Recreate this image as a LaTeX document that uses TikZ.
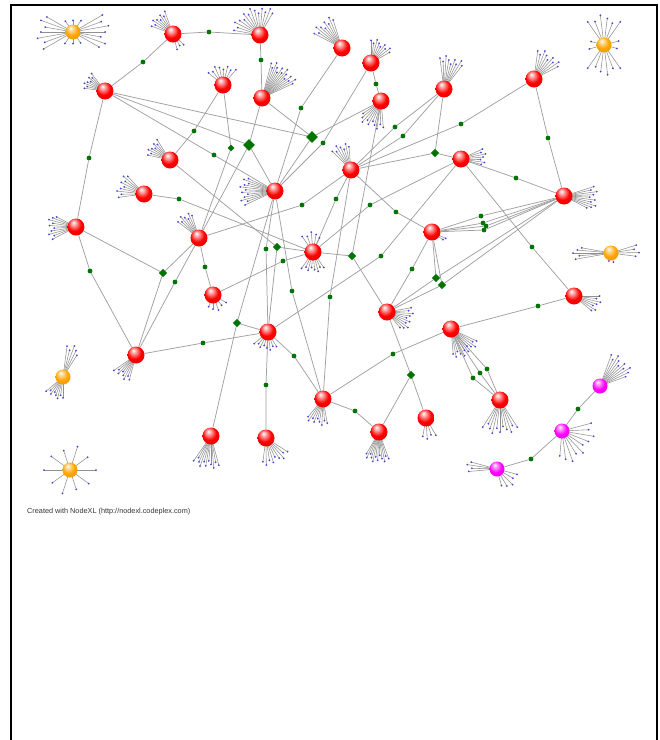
\documentclass[tikz,border=0pt]{standalone}
\usepackage{xcolor}
\usepackage{tikz}
\usetikzlibrary{shapes,positioning,calc}
\usepackage{fontspec}
\newfontfamily\creditfont{Liberation Sans}
\definecolor{nxgreen}{RGB}{0,115,0}
\definecolor{nxgray}{RGB}{160,160,160}
\definecolor{nxray}{RGB}{145,145,145}
\definecolor{nxblue}{RGB}{70,70,210}
\definecolor{nxorange}{RGB}{255,165,0}
\pgfdeclarelayer{back}
\pgfsetlayers{back,main}
\pgfdeclareradialshading{redball}{\pgfpoint{-8bp}{14bp}}{color(0bp)=(white); color(5bp)=(red!25!white); color(20bp)=(red); color(40bp)=(red!88!black); color(50bp)=(red!75!black)}
\pgfdeclareradialshading{orangeball}{\pgfpoint{-8bp}{14bp}}{color(0bp)=(white); color(5bp)=(nxorange!30!white); color(20bp)=(nxorange); color(40bp)=(nxorange!90!black); color(50bp)=(nxorange!80!black)}
\pgfdeclareradialshading{magball}{\pgfpoint{-8bp}{14bp}}{color(0bp)=(white); color(5bp)=(magenta!30!white); color(20bp)=(magenta); color(40bp)=(magenta!90!black); color(50bp)=(magenta!78!black)}

% fan of leaves: node, direction, spread, count, length
\newcommand{\fan}[5]{%
  \foreach \k in {1,...,#4}{%
    \pgfmathsetmacro{\fanang}{#2-#3/2+#3*(\k-1)/max(#4-1,1)}%
    \pgfmathsetmacro{\fanlen}{#5*(0.78+0.22*mod(\k*3,5)/4)}%
    \draw[ray] (#1.center) -- ++(\fanang:\fanlen) node[leaf] (#1-#2-\k) {};%
  }}

\begin{document}
\begin{tikzpicture}[x=1pt,y=-1pt]
\tikzstyle{rb} = [circle, shade, shading=redball, minimum size=17pt, inner sep=0pt]
\tikzstyle{ob} = [circle, shade, shading=orangeball, minimum size=15pt, inner sep=0pt]
\tikzstyle{mb} = [circle, shade, shading=magball, minimum size=15pt, inner sep=0pt]
\tikzstyle{gd} = [circle, fill=nxgreen, minimum size=4.8pt, inner sep=0pt]
\tikzstyle{gm} = [diamond, fill=nxgreen, minimum size=8.5pt, inner sep=0pt]
\tikzstyle{gb} = [diamond, fill=nxgreen, minimum size=12pt, inner sep=0pt]
\tikzstyle{lk} = [nxgray, line width=0.75pt]
\tikzstyle{ray} = [nxray, line width=0.55pt]
\tikzstyle{leaf} = [circle, fill=nxblue, minimum size=2pt, inner sep=0pt]
\useasboundingbox (0,0) rectangle (660,740);
\draw[line width=2pt] (11,740) -- (11,5);
\draw[line width=2pt] (657,740) -- (657,5);
\draw[line width=1.3pt] (10,5) -- (658,5);

% isolates
\node [ob] (O1) at (73,32) {};
\node [ob] (O2) at (604,45) {};
\node [ob] (O3) at (611,253) {};
\node [ob] (O4) at (63,377) {};
\node [ob] (O5) at (70,470) {};
\node [mb] (M1) at (600,386) {};
\node [mb] (M2) at (562,431) {};
\node [mb] (M3) at (497,469) {};
% accounts
\node [rb] (R1) at (173,34) {};
\node [rb] (R2) at (260,35) {};
\node [rb] (R3) at (342,48) {};
\node [rb] (R4) at (371,63) {};
\node [rb] (R5) at (105,91) {};
\node [rb] (R6) at (223,85) {};
\node [rb] (R7) at (262,98) {};
\node [rb] (R8) at (381,101) {};
\node [rb] (R9) at (444,89) {};
\node [rb] (R10) at (534,79) {};
\node [rb] (R11) at (170,160) {};
\node [rb] (R12) at (144,194) {};
\node [rb] (R13) at (275,191) {};
\node [rb] (R14) at (351,170) {};
\node [rb] (R15) at (461,159) {};
\node [rb] (R16) at (564,196) {};
\node [rb] (R17) at (76,227) {};
\node [rb] (R18) at (199,238) {};
\node [rb] (R19) at (313,252) {};
\node [rb] (R20) at (432,232) {};
\node [rb] (R21) at (213,295) {};
\node [rb] (R22) at (574,296) {};
\node [rb] (R23) at (387,312) {};
\node [rb] (R24) at (268,332) {};
\node [rb] (R25) at (451,329) {};
\node [rb] (R26) at (136,355) {};
\node [rb] (R27) at (323,399) {};
\node [rb] (R28) at (500,400) {};
\node [rb] (R29) at (426,418) {};
\node [rb] (R30) at (379,432) {};
\node [rb] (R31) at (211,436) {};
\node [rb] (R32) at (266,438) {};
% shared items
\node [gd] (g1) at (209,32) {};
\node [gd] (g2) at (143,62) {};
\node [gd] (g3) at (261,60) {};
\node [gd] (g4) at (301,108) {};
\node [gd] (g5) at (323,143) {};
\node [gm, minimum size=7pt] (g6) at (231,148) {};
\node [gd] (g7) at (214,155) {};
\node [gd] (g8) at (194,131) {};
\node [gd] (g9) at (89,158) {};
\node [gd] (g10) at (179,199) {};
\node [gd] (g11) at (302,205) {};
\node [gd] (g12) at (376,84) {};
\node [gd] (g13) at (395,127) {};
\node [gd] (g14) at (403,136) {};
\node [gd] (g15) at (461,124) {};
\node [gd] (g16) at (548,138) {};
\node [gd] (g17) at (516,178) {};
\node [gd] (g18) at (370,205) {};
\node [gd] (g19) at (396,212) {};
\node [gd] (g20) at (336,199) {};
\node [gd] (g21) at (481,216) {};
\node [gd] (g22) at (483,223) {};
\node [gd] (g23) at (486,226) {};
\node [gd] (g24) at (484,230) {};
\node [gd] (g25) at (532,247) {};
\node [gd] (g26) at (412,269) {};
\node [gd] (g27) at (381,256) {};
\node [gd] (g28) at (538,306) {};
\node [gd] (g29) at (205,267) {};
\node [gd] (g30) at (175,282) {};
\node [gd] (g31) at (266,249) {};
\node [gd] (g32) at (283,261) {};
\node [gd] (g33) at (292,291) {};
\node [gd] (g34) at (330,297) {};
\node [gd] (g35) at (203,343) {};
\node [gd] (g36) at (294,356) {};
\node [gd] (g37) at (266,385) {};
\node [gd] (g38) at (355,411) {};
\node [gd] (g39) at (393,354) {};
\node [gd] (g40) at (473,378) {};
\node [gd] (g41) at (480,373) {};
\node [gd] (g42) at (487,369) {};
\node [gd] (g43) at (578,409) {};
\node [gd] (g44) at (531,459) {};
\node [gd] (g45) at (90,271) {};
\node [gb] (d1) at (312,137) {};
\node [gb] (d2) at (249,145) {};
\node [gm] (d3) at (237,323) {};
\node [gm] (d4) at (435,153) {};
\node [gm] (d5) at (436,278) {};
\node [gm] (d6) at (442,285) {};
\node [gm] (d7) at (163,273) {};
\node [gm] (d8) at (277,247) {};
\node [gm] (d9) at (352,256) {};
\node [gm] (d10) at (411,375) {};

\node [anchor=west, inner sep=0pt, text=black!80, font=\creditfont\fontsize{7.3}{9}\selectfont] (credit) at (27,512) {Created with NodeXL (http://nodexl.codeplex.com)};

\begin{pgfonlayer}{back}
\draw [lk] (R1) -- (g1) -- (R2);
\draw [lk] (R1) -- (g2) -- (R5);
\draw [lk] (R2) -- (g3) -- (R7);
\draw [lk] (R3) -- (g4) -- (R13);
\draw [lk] (R4) -- (g5) -- (R13);
\draw [lk] (R6) -- (g6) -- (R18);
\draw [lk] (R5) -- (g7) -- (R13);
\draw [lk] (R6) -- (g8) -- (R11);
\draw [lk] (R5) -- (g9) -- (R17);
\draw [lk] (R12) -- (g10) -- (R19);
\draw [lk] (R18) -- (g11) -- (R14);
\draw [lk] (R4) -- (g12) -- (R8);
\draw [lk] (R9) -- (g13) -- (R14);
\draw [lk] (R9) -- (g14) -- (R14);
\draw [lk] (R10) -- (g15) -- (R14);
\draw [lk] (R10) -- (g16) -- (R16);
\draw [lk] (R15) -- (g17) -- (R16);
\draw [lk] (R15) -- (g18) -- (R19);
\draw [lk] (R14) -- (g19) -- (R20);
\draw [lk] (R14) -- (g20) -- (R19);
\foreach \g in {g21,g22,g23,g24}
  \draw [lk] (R20) -- (\g) -- (R16);
\draw [lk] (R15) -- (g25) -- (R22);
\draw [lk] (R23) -- (g26) -- (R20);
\draw [lk] (R24) -- (g27) -- (R15);
\draw [lk] (R25) -- (g28) -- (R22);
\draw [lk] (R18) -- (g29) -- (R21);
\draw [lk] (R18) -- (g30) -- (R26);
\draw [lk] (R13) -- (g31) -- (R24);
\draw [lk] (R21) -- (g32) -- (R19);
\draw [lk] (R13) -- (g33) -- (R27);
\draw [lk] (R14) -- (g34) -- (R27);
\draw [lk] (R26) -- (g35) -- (R24);
\draw [lk] (R24) -- (g36) -- (R27);
\draw [lk] (R24) -- (g37) -- (R32);
\draw [lk] (R27) -- (g38) -- (R30);
\draw [lk] (R27) -- (g39) -- (R25);
\foreach \g in {g40,g41,g42}
  \draw [lk] (R25) -- (\g) -- (R28);
\draw [lk] (M1) -- (g43) -- (M2);
\draw [lk] (M2) -- (g44) -- (M3);
\draw [lk] (R17) -- (g45) -- (R26);
\foreach \r in {R5,R7,R8,R13} \draw [lk] (d1) -- (\r);
\foreach \r in {R5,R7,R13,R18} \draw [lk] (d2) -- (\r);
\foreach \r in {R31,R24,R13} \draw [lk] (d3) -- (\r);
\foreach \r in {R14,R9,R15} \draw [lk] (d4) -- (\r);
\foreach \r in {R20,R16,R23} \draw [lk] (d5) -- (\r);
\foreach \r in {R20,R16,R23} \draw [lk] (d6) -- (\r);
\foreach \r in {R17,R18,R26} \draw [lk] (d7) -- (\r);
\foreach \r in {R11,R19,R24} \draw [lk] (d8) -- (\r);
\foreach \r in {R8,R19,R23} \draw [lk] (d9) -- (\r);
\foreach \r in {R23,R29,R30} \draw [lk] (d10) -- (\r);

% leaves
\fan{O1}{180}{60}{7}{36} \fan{O1}{0}{60}{7}{36}
\fan{O1}{-90}{70}{3}{14} \fan{O1}{90}{70}{3}{14}
\fan{O2}{-90}{70}{6}{30} \fan{O2}{90}{70}{6}{30}
\fan{O2}{180}{30}{2}{16} \fan{O2}{0}{30}{2}{16}
\fan{O3}{180}{20}{5}{38} \fan{O3}{-5}{25}{4}{28} \fan{O3}{90}{30}{2}{10}
\fan{O4}{-70}{25}{5}{33} \fan{O4}{115}{50}{8}{22}
\fan{O5}{-90}{324}{10}{26}
\fan{M1}{-45}{50}{10}{35}
\fan{M2}{40}{110}{10}{32}
\fan{M3}{185}{20}{4}{30} \fan{M3}{45}{60}{5}{22}
\fan{R1}{-135}{50}{8}{24} \fan{R1}{60}{30}{3}{16}
\fan{R2}{-115}{110}{14}{28}
\fan{R3}{-130}{45}{9}{33}
\fan{R4}{-60}{60}{9}{24}
\fan{R5}{-150}{45}{8}{22}
\fan{R6}{-95}{90}{8}{20}
\fan{R7}{-50}{50}{14}{38}
\fan{R8}{115}{60}{10}{28}
\fan{R9}{-75}{45}{9}{33}
\fan{R10}{-55}{55}{9}{30}
\fan{R11}{-145}{45}{8}{24}
\fan{R12}{-160}{55}{9}{27}
\fan{R13}{180}{50}{12}{35}
\fan{R14}{-115}{40}{7}{28}
\fan{R15}{-5}{40}{7}{25}
\fan{R16}{5}{45}{10}{33}
\fan{R17}{180}{55}{10}{28}
\fan{R18}{-125}{35}{7}{28}
\fan{R19}{-95}{60}{5}{20} \fan{R19}{90}{70}{8}{20}
\fan{R20}{30}{10}{2}{16}
\fan{R21}{70}{80}{5}{16}
\fan{R22}{20}{40}{7}{27}
\fan{R23}{20}{60}{10}{26}
\fan{R24}{100}{80}{8}{18}
\fan{R25}{55}{60}{12}{30}
\fan{R26}{125}{40}{8}{27}
\fan{R27}{105}{50}{9}{26}
\fan{R28}{90}{65}{11}{34}
\fan{R29}{80}{40}{4}{21}
\fan{R30}{95}{50}{12}{30}
\fan{R31}{100}{50}{11}{32}
\fan{R32}{65}{65}{9}{27}
\end{pgfonlayer}
\end{tikzpicture}
\end{document}
